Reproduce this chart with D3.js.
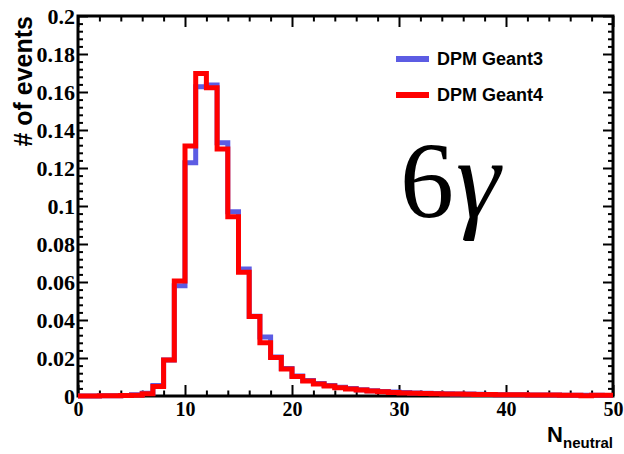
<!DOCTYPE html>
<html>
<head>
<meta charset="utf-8">
<script src="https://cdn.jsdelivr.net/npm/d3@7"></script>
<style>
  body { margin: 0; background: #fff; }
  svg { display: block; }
</style>
</head>
<body>
<script>
'use strict';

// bin contents, 50 bins of width 1 from 0 to 50
const geant3 = [
  0.0000, 0.0000, 0.0001, 0.0001, 0.0002, 0.0007, 0.0014, 0.0055, 0.0190, 0.0580,
  0.1228, 0.1628, 0.1637, 0.1333, 0.0970, 0.0668, 0.0420, 0.0310, 0.0205, 0.0145,
  0.0105, 0.0082, 0.0066, 0.0055, 0.0046, 0.0039, 0.0033, 0.0028, 0.0024, 0.0021,
  0.0018, 0.0016, 0.0014, 0.0013, 0.0012, 0.0011, 0.0010, 0.0009, 0.0008, 0.0007,
  0.0006, 0.0006, 0.0005, 0.0005, 0.0005, 0.0004, 0.0004, 0.0004, 0.0004, 0.0003
];
const geant4 = [
  0.0000, 0.0000, 0.0001, 0.0001, 0.0002, 0.0004, 0.0012, 0.0050, 0.0190, 0.0605,
  0.1316, 0.1698, 0.1623, 0.1300, 0.0944, 0.0651, 0.0418, 0.0280, 0.0202, 0.0142,
  0.0102, 0.0079, 0.0063, 0.0053, 0.0044, 0.0037, 0.0032, 0.0026, 0.0022, 0.0019,
  0.0016, 0.0014, 0.0013, 0.0012, 0.0011, 0.0010, 0.0009, 0.0008, 0.0008, 0.0007,
  0.0006, 0.0006, 0.0005, 0.0005, 0.0005, 0.0004, 0.0004, 0.0001, 0.0004, 0.0004
];
const xTicks = [0, 10, 20, 30, 40, 50];
const yTicks = [0, 0.02, 0.04, 0.06, 0.08, 0.1, 0.12, 0.14, 0.16, 0.18, 0.2];
const seriesNames = ["DPM Geant3", "DPM Geant4"];

const W = 624, H = 454;
const m = { left: 78, right: 11, top: 16, bottom: 58 };
const blue = "#5c5ce3", red = "#ff0000";
const serif = "'Liberation Serif', 'Times New Roman', serif";
const sans = "'Liberation Sans', Arial, sans-serif";

const svg = d3.select("body").append("svg")
  .attr("width", W).attr("height", H);

const x = d3.scaleLinear().domain([0, 50]).range([m.left, W - m.right]);
const y = d3.scaleLinear().domain([0, 0.2]).range([H - m.bottom, m.top]);

const xMinor = d3.range(0, 51, 2).filter(v => v % 10 !== 0);
const yMinor = d3.range(0, 0.2001, 0.004).filter((v, i) => i % 5 !== 0);

const styleAxis = (g) => {
  g.select(".domain").remove();
  g.selectAll(".tick line").attr("stroke", "#000").attr("stroke-width", 2);
};

// ticks (all pointing inward, mirrored on top and right)
const addTicks = (axisFn, scale, vals, len, transform, labels) => {
  const g = svg.append("g")
    .attr("transform", transform)
    .call(axisFn(scale).tickValues(vals).tickSizeInner(-len).tickSizeOuter(0)
      .tickFormat(labels ? labels : ""))
    .call(styleAxis);
  return g;
};

const bx = `translate(0,${H - m.bottom})`, tx = `translate(0,${m.top})`;
const ly = `translate(${m.left},0)`, ry = `translate(${W - m.right},0)`;

const xLab = addTicks(d3.axisBottom, x, xTicks, 11, bx, d => d3.format("d")(d));
addTicks(d3.axisBottom, x, xMinor, 5.5, bx);
addTicks(d3.axisTop, x, xTicks, -11, tx).selectAll(".tick line").attr("y2", 11);
addTicks(d3.axisTop, x, xMinor, -5.5, tx).selectAll(".tick line").attr("y2", 5.5);

const yLab = addTicks(d3.axisLeft, y, yTicks, 10, ly, d => d === 0 ? "0" : String(+d.toFixed(2)));
addTicks(d3.axisLeft, y, yMinor, 5, ly);
addTicks(d3.axisRight, y, yTicks, -10, ry).selectAll(".tick line").attr("x2", -10);
addTicks(d3.axisRight, y, yMinor, -5, ry).selectAll(".tick line").attr("x2", -5);

xLab.selectAll(".tick text")
  .attr("font-family", serif).attr("font-weight", "bold").attr("font-size", 20)
  .attr("fill", "#000").attr("y", 6).attr("dy", "0.71em");
yLab.selectAll(".tick text")
  .attr("font-family", serif).attr("font-weight", "bold").attr("font-size", 22)
  .attr("fill", "#000").attr("x", -3).attr("dy", "0.34em");

// frame
svg.append("rect")
  .attr("x", m.left).attr("y", m.top)
  .attr("width", W - m.left - m.right).attr("height", H - m.top - m.bottom)
  .attr("fill", "none").attr("stroke", "#000").attr("stroke-width", 3);

// histograms
const histLine = d3.line()
  .x(d => x(d[0]))
  .y(d => y(d[1]))
  .curve(d3.curveStepAfter);

const toSteps = (vals) => {
  const pts = vals.map((v, i) => [i, v]);
  pts.push([vals.length, vals[vals.length - 1]]);
  return pts;
};

[[geant3, blue], [geant4, red]].forEach(([vals, col]) => {
  svg.append("path")
    .attr("d", histLine(toSteps(vals)))
    .attr("fill", "none")
    .attr("stroke", col)
    .attr("stroke-width", 5)
    .attr("stroke-linejoin", "miter");
});

// legend
const legend = svg.append("g");
seriesNames.forEach((name, i) => {
  const ly0 = 59 + i * 36;
  legend.append("line")
    .attr("x1", 396).attr("x2", 429).attr("y1", ly0).attr("y2", ly0)
    .attr("stroke", i === 0 ? blue : red).attr("stroke-width", 6);
  legend.append("text")
    .attr("x", 437).attr("y", ly0 + 6)
    .attr("font-family", sans).attr("font-weight", "bold").attr("font-size", 18)
    .text(name);
});

// 6 gamma label
const lab = svg.append("text")
  .attr("x", 400).attr("y", 217)
  .attr("font-family", serif).attr("font-size", 108);
lab.append("tspan").text("6");
lab.append("tspan").attr("font-style", "italic").attr("font-size", 112).attr("dx", 2).text("γ");

// axis titles
const xt = svg.append("text")
  .attr("x", 613).attr("y", 442)
  .attr("text-anchor", "end")
  .attr("font-family", sans).attr("font-weight", "bold").attr("font-size", 22);
xt.append("tspan").text("N");
xt.append("tspan").attr("font-size", 15).attr("dy", 6).text("neutral");

svg.append("text")
  .attr("transform", `translate(32,${m.top}) rotate(-90)`)
  .attr("text-anchor", "end")
  .attr("font-family", sans).attr("font-weight", "bold").attr("font-size", 25)
  .text("# of events");
</script>
</body>
</html>
